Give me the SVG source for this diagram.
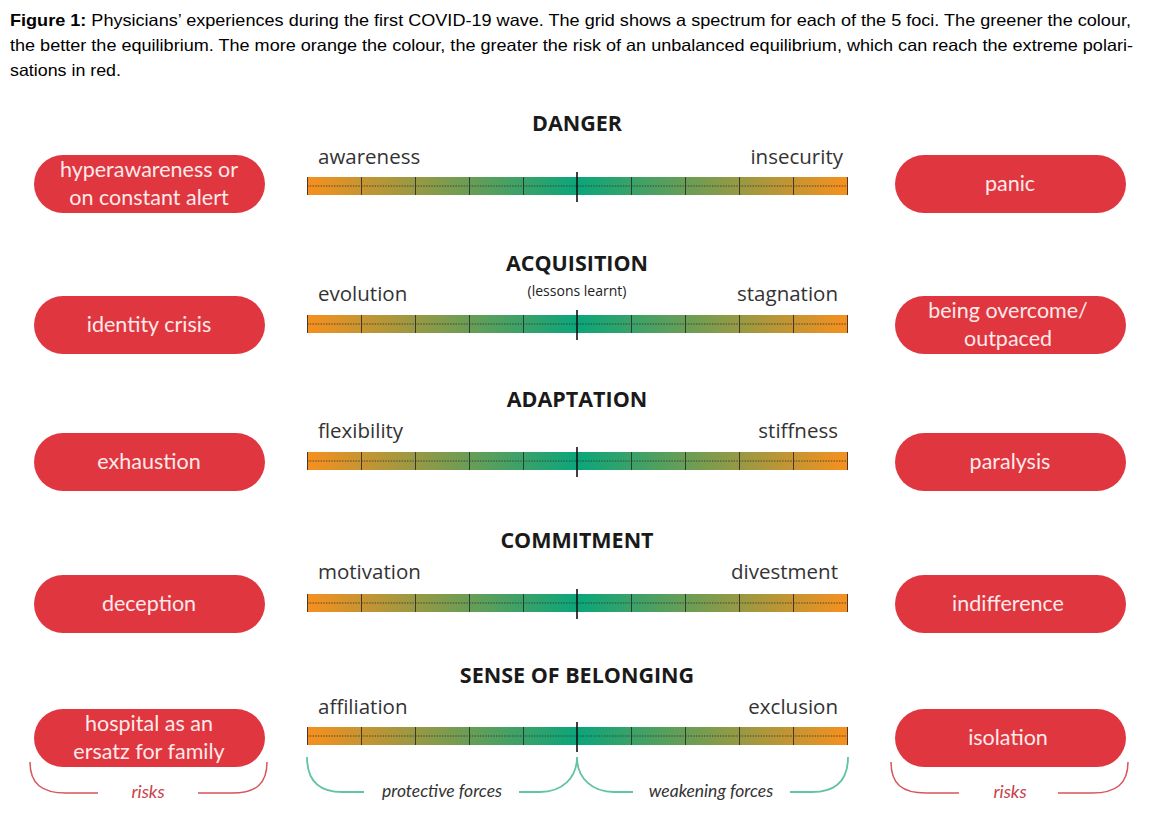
<svg xmlns="http://www.w3.org/2000/svg" xmlns:xlink="http://www.w3.org/1999/xlink" width="1159" height="830" viewBox="0 0 1159 830">
<style>
.cap{font-family:"Liberation Sans",Arial,sans-serif;font-size:16.5px;fill:#000}
.title{font-family:"Open Sans",sans-serif;font-weight:bold;font-size:21.5px;fill:#1a1a1a;text-anchor:middle}
.sub{font-family:"Open Sans",sans-serif;font-size:14px;fill:#222;text-anchor:middle}
.lbl{font-family:"Open Sans",sans-serif;font-size:20.5px;fill:#333}
.pill{fill:#E0363F}
.ptxt{font-family:Lato,"Open Sans",sans-serif;font-size:21.5px;fill:#fde9ea;text-anchor:middle}
.risk{fill:none;stroke:#d9535a;stroke-width:1.5}
.force{fill:none;stroke:#62c4a0;stroke-width:1.8}
.rtxt{font-family:Lato,sans-serif;font-style:italic;font-size:18px;fill:#c8424a;text-anchor:middle}
.ftxt{font-family:Lato,sans-serif;font-style:italic;font-size:17.5px;fill:#333;text-anchor:middle}
.tick{stroke:#2a2a2a;stroke-width:1;opacity:0.85}
</style>
<defs>
<linearGradient id="grad" gradientUnits="userSpaceOnUse" x1="307" y1="0" x2="848" y2="0">
<stop offset="0" stop-color="#F7901E"/>
<stop offset="0.5" stop-color="#0AA67B"/>
<stop offset="1" stop-color="#F7901E"/>
</linearGradient>
<g id="bar">
<rect x="307" y="-9" width="541" height="18" fill="url(#grad)"/>
<line x1="307" y1="0" x2="847" y2="0" stroke="#333" stroke-width="1" stroke-dasharray="1.5 1.2" opacity="0.8"/>
<path class="tick" d="M307.5,-9V9M361.5,-9V9M415.5,-9V9M469.5,-9V9M523.5,-9V9M631.5,-9V9M685.5,-9V9M739.5,-9V9M793.5,-9V9M847.5,-9V9"/>
<line x1="577" y1="-14" x2="577" y2="16" stroke="#111" stroke-width="1.6"/>
</g>
</defs>
<rect width="1159" height="830" fill="#fff"/>
<g id="caption">
<text class="cap" x="10" y="26" textLength="1121" lengthAdjust="spacingAndGlyphs"><tspan font-weight="bold">Figure 1:</tspan> Physicians’ experiences during the first COVID-19 wave. The grid shows a spectrum for each of the 5 foci. The greener the colour,</text>
<text class="cap" x="10" y="51" textLength="1123" lengthAdjust="spacingAndGlyphs">the better the equilibrium. The more orange the colour, the greater the risk of an unbalanced equilibrium, which can reach the extreme polari-</text>
<text class="cap" x="10" y="76" textLength="111" lengthAdjust="spacingAndGlyphs">sations in red.</text>
</g>
<g id="danger">
<text class="title" x="577" y="131">DANGER</text>
<text class="lbl" x="318" y="164">awareness</text>
<text class="lbl" x="843" y="164" text-anchor="end">insecurity</text>
<use xlink:href="#bar" y="186"/>
<rect class="pill" x="34" y="155" width="231" height="58" rx="29"/>
<text class="ptxt" x="149" y="177">hyperawareness or</text>
<text class="ptxt" x="149" y="205">on constant alert</text>
<rect class="pill" x="895" y="155" width="231" height="58" rx="29"/>
<text class="ptxt" x="1010" y="191">panic</text>
</g>
<g id="acquisition">
<text class="title" x="577" y="271">ACQUISITION</text>
<text class="sub" x="577" y="296">(lessons learnt)</text>
<text class="lbl" x="318" y="301">evolution</text>
<text class="lbl" x="838" y="301" text-anchor="end">stagnation</text>
<use xlink:href="#bar" y="324"/>
<rect class="pill" x="34" y="296" width="231" height="58" rx="29"/>
<text class="ptxt" x="149" y="332">identity crisis</text>
<rect class="pill" x="895" y="296" width="231" height="58" rx="29"/>
<text class="ptxt" x="1008" y="318">being overcome/</text>
<text class="ptxt" x="1008" y="346">outpaced</text>
</g>
<g id="adaptation">
<text class="title" x="577" y="407">ADAPTATION</text>
<text class="lbl" x="318" y="438">flexibility</text>
<text class="lbl" x="838" y="438" text-anchor="end">stiffness</text>
<use xlink:href="#bar" y="461"/>
<rect class="pill" x="34" y="433" width="231" height="58" rx="29"/>
<text class="ptxt" x="149" y="469">exhaustion</text>
<rect class="pill" x="895" y="433" width="231" height="58" rx="29"/>
<text class="ptxt" x="1010" y="469">paralysis</text>
</g>
<g id="commitment">
<text class="title" x="577" y="548">COMMITMENT</text>
<text class="lbl" x="318" y="579">motivation</text>
<text class="lbl" x="838" y="579" text-anchor="end">divestment</text>
<use xlink:href="#bar" y="603"/>
<rect class="pill" x="34" y="575" width="231" height="58" rx="29"/>
<text class="ptxt" x="149" y="611">deception</text>
<rect class="pill" x="895" y="575" width="231" height="58" rx="29"/>
<text class="ptxt" x="1008" y="611">indifference</text>
</g>
<g id="belonging">
<text class="title" x="577" y="683">SENSE OF BELONGING</text>
<text class="lbl" x="318" y="714">affiliation</text>
<text class="lbl" x="838" y="714" text-anchor="end">exclusion</text>
<use xlink:href="#bar" y="736"/>
<rect class="pill" x="34" y="709" width="231" height="58" rx="29"/>
<text class="ptxt" x="149" y="731">hospital as an</text>
<text class="ptxt" x="149" y="759">ersatz for family</text>
<rect class="pill" x="895" y="709" width="231" height="58" rx="29"/>
<text class="ptxt" x="1008" y="745">isolation</text>
</g>
<g id="connectors">
<path class="risk" d="M30,762 C30,784 42,793 66,793 L98,793 M198,793 L232,793 C256,793 267,784 267,762"/>
<text class="rtxt" x="148" y="798">risks</text>
<path class="force" d="M307,757 C307,780 318,792 342,792 L364,792 M519,792 L540,792 C562,792 577,778 577,757 C577,778 592,792 614,792 L633,792 M790,792 L812,792 C836,792 848,780 848,757"/>
<text class="ftxt" x="442" y="797">protective forces</text>
<text class="ftxt" x="711" y="797">weakening forces</text>
<path class="risk" d="M891,762 C891,784 902,793 926,793 L959,793 M1058,793 L1092,793 C1116,793 1128,784 1128,762"/>
<text class="rtxt" x="1010" y="798">risks</text>
</g>
</svg>
